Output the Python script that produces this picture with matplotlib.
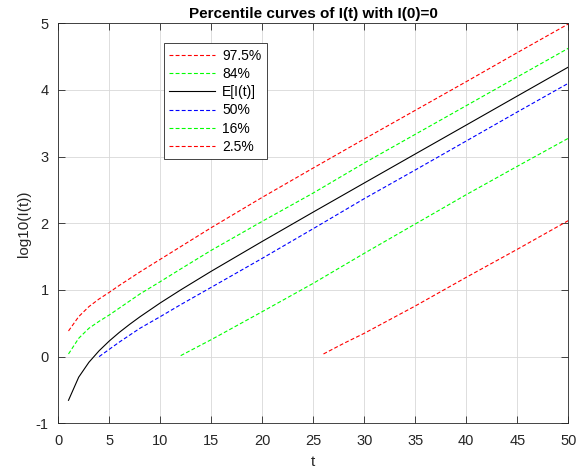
import matplotlib
matplotlib.use('Agg')
import matplotlib.pyplot as plt

# values (log10 of the percentile / mean)
t_p975 = [1, 2, 3, 4, 5, 6, 7, 8, 10, 12, 15, 20, 25, 30, 35, 40, 45, 50]
p975 = [0.385, 0.60, 0.75, 0.865, 0.965, 1.07, 1.17, 1.27, 1.46, 1.65, 1.935,
        2.39, 2.83, 3.265, 3.695, 4.125, 4.56, 4.99]

t_p84 = [1, 2, 3, 4, 5, 6, 7, 8, 10, 12, 15, 20, 25, 30, 35, 40, 45, 50]
p84 = [0.04, 0.275, 0.425, 0.53, 0.625, 0.73, 0.835, 0.94, 1.125, 1.315, 1.595,
       2.03, 2.455, 2.905, 3.335, 3.765, 4.195, 4.625]

t_mean = [1, 2, 3, 4, 5, 6, 7, 8, 10, 12, 15, 20, 25, 30, 35, 40, 45, 50]
mean = [-0.655, -0.308, -0.085, 0.088, 0.235, 0.366, 0.485, 0.597, 0.806, 1.001,
        1.281, 1.729, 2.169, 2.605, 3.04, 3.474, 3.909, 4.343]

t_p50 = [4, 5, 6, 8, 10, 12, 15, 20, 25, 30, 35, 40, 45, 50]
p50 = [0.0, 0.11, 0.22, 0.425, 0.6, 0.78, 1.04, 1.475, 1.92, 2.37, 2.80, 3.235,
       3.67, 4.10]

t_p16 = [12, 13, 15, 20, 25, 30, 35, 40, 45, 50]
p16 = [0.015, 0.095, 0.255, 0.675, 1.1, 1.55, 1.99, 2.43, 2.855, 3.275]

t_p025 = [26, 28, 30, 35, 40, 45, 50]
p025 = [0.04, 0.2, 0.35, 0.76, 1.19, 1.61, 2.04]

xticks = list(range(0, 51, 5))
yticks = list(range(-1, 6))

plt.rcParams['font.family'] = ['Liberation Sans', 'DejaVu Sans']
plt.rcParams['font.size'] = 10
plt.rcParams['axes.unicode_minus'] = False

fig = plt.figure(figsize=(5.79, 4.71), dpi=100)
ax = fig.add_axes([0.1007, 0.1013, 0.8808, 0.8492])

dash = (0, (3.5, 2))
lw = 0.8
ax.plot(t_p975, p975, color='#ff0000', ls=dash, lw=lw, label='97.5%')
ax.plot(t_p84, p84, color='#00ff00', ls=dash, lw=lw, label='84%')
ax.plot(t_mean, mean, color='black', ls='-', lw=lw, label='E[I(t)]')
ax.plot(t_p50, p50, color='#0000ff', ls=dash, lw=lw, label='50%')
ax.plot(t_p16, p16, color='#00ff00', ls=dash, lw=lw, label='16%')
ax.plot(t_p025, p025, color='#ff0000', ls=dash, lw=lw, label='2.5%')

ax.set_xlim(0, 50)
ax.set_ylim(-1, 5)
ax.set_xticks(xticks)
ax.set_yticks(yticks)
ax.grid(True, color='#d8d8d8', lw=0.6)
ax.set_axisbelow(True)
ax.tick_params(direction='in', top=True, right=True, length=5, width=0.6,
               colors='#262626', labelsize=10.5)
ax.tick_params(axis='x', pad=8)
ax.tick_params(axis='y', pad=7)
for s in ax.spines.values():
    s.set_color('#262626')
    s.set_linewidth(0.6)

ax.set_title('Percentile curves of I(t) with I(0)=0', fontsize=11,
             fontweight='bold', pad=4)
ax.set_xlabel('t', fontsize=11, color='#262626', labelpad=5)
ax.set_ylabel('log10(I(t))', fontsize=11, color='#262626', labelpad=3)

leg = ax.legend(loc='upper left', bbox_to_anchor=(0.207, 0.95), fancybox=False,
                edgecolor='#262626', framealpha=1, fontsize=10,
                handlelength=3.3, labelspacing=0.3, borderpad=0.4,
                handletextpad=0.5, borderaxespad=0)
leg.get_frame().set_linewidth(0.6)

fig.savefig('out.png', dpi=100)
